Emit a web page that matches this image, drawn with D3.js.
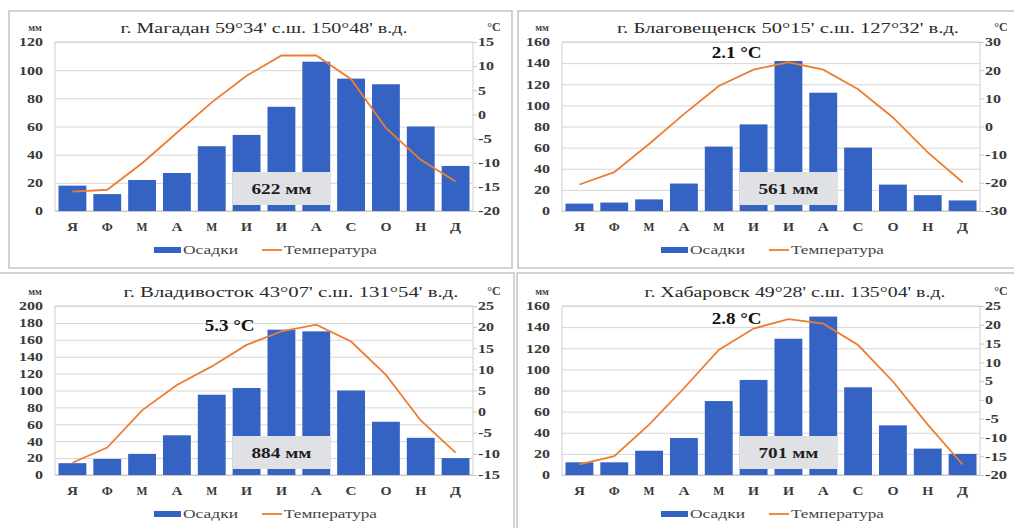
<!DOCTYPE html>
<html><head><meta charset="utf-8">
<script src="https://cdn.jsdelivr.net/npm/d3@7"></script>
<style>
html,body{margin:0;padding:0;background:#fff;}
svg{display:block;}
svg text{font-family:"Liberation Serif","Times New Roman",serif;}
</style></head>
<body><svg id="c" width="1014" height="528"></svg>
<script>
const months = ["Я","Ф","М","А","М","И","И","А","С","О","Н","Д"];

const magadanTitle = "г. Магадан 59°34' с.ш. 150°48' в.д.";
const magadanPrecip = [18,12,22,27,46,54,74,106,94,90,60,32];
const magadanTemp = [-16,-15.6,-10.1,-3.8,2.5,8,12.2,12.2,7.3,-2.8,-9.4,-13.9];
const magadanPrecipTicks = [0,20,40,60,80,100,120];
const magadanTempTicks = [-20,-15,-10,-5,0,5,10,15];
const magadanTotal = "622 мм";
const magadanMean = null;

const blagTitle = "г. Благовещенск 50°15' с.ш. 127°32' в.д.";
const blagPrecip = [7,8,11,26,61,82,142,112,60,25,15,10];
const blagTemp = [-20.6,-16.2,-6.2,4.4,14.4,20.2,22.8,20.2,13.2,3.2,-9.2,-19.8];
const blagPrecipTicks = [0,20,40,60,80,100,120,140,160];
const blagTempTicks = [-30,-20,-10,0,10,20,30];
const blagTotal = "561 мм";
const blagMean = "2.1 °C";

const vladTitle = "г. Владивосток 43°07' с.ш. 131°54' в.д.";
const vladPrecip = [14,19,25,47,95,103,172,170,100,63,44,20];
const vladTemp = [-12.1,-8.5,0.3,6.3,10.7,15.8,19,20.6,16.6,8.7,-2.1,-9.7];
const vladPrecipTicks = [0,20,40,60,80,100,120,140,160,180,200];
const vladTempTicks = [-15,-10,-5,0,5,10,15,20,25];
const vladTotal = "884 мм";
const vladMean = "5.3 °C";

const khabTitle = "г. Хабаровск 49°28' с.ш. 135°04' в.д.";
const khabPrecip = [12,12,23,35,70,90,129,150,83,47,25,20];
const khabTemp = [-17.2,-15,-6.6,3.1,13.3,19,21.5,20.3,14.6,4.9,-6.6,-17.2];
const khabPrecipTicks = [0,20,40,60,80,100,120,140,160];
const khabTempTicks = [-20,-15,-10,-5,0,5,10,15,20,25];
const khabTotal = "701 мм";
const khabMean = "2.8 °C";

const legendLabels = ["Осадки","Температура"];

// layout (not data)
const panels = [
  {title:magadanTitle, precip:magadanPrecip, temp:magadanTemp, pt:magadanPrecipTicks, tt:magadanTempTicks, total:magadanTotal, mean:magadanMean,
   ox:0, oy:0, frame:[9,11,503,257], meanY:55, tx:264, tw:287},
  {title:blagTitle, precip:blagPrecip, temp:blagTemp, pt:blagPrecipTicks, tt:blagTempTicks, total:blagTotal, mean:blagMean,
   ox:507, oy:0, frame:[11,11,510,257], meanY:53, tx:281, tw:342},
  {title:vladTitle, precip:vladPrecip, temp:vladTemp, pt:vladPrecipTicks, tt:vladTempTicks, total:vladTotal, mean:vladMean,
   ox:0, oy:264, frame:[-3,9,517,270], meanY:62, tx:291, tw:335},
  {title:khabTitle, precip:khabPrecip, temp:khabTemp, pt:khabPrecipTicks, tt:khabTempTicks, total:khabTotal, mean:khabMean,
   ox:507, oy:264, frame:[10,9,510,270], meanY:55, tx:288, tw:301}
];

const svg = d3.select("#c");
const L = 55, R = 473, T = 42, B = 211;
const blue = "#3563c4", orange = "#ed7d31";
const FF = "'Liberation Serif', serif";
const fmt = d => String(d);
const styleTick = sel => sel.style("font-family", FF).attr("font-size", 12).attr("font-weight", "bold")
  .attr("fill", "#3a3a3a")
  .attr("textLength", function () { const t = this.textContent; return t.length * 8 - (t.startsWith("-") ? 2 : 0); })
  .attr("lengthAdjust", "spacingAndGlyphs");

panels.forEach(p => {
  const g = svg.append("g").attr("transform", `translate(${p.ox},${p.oy})`);
  g.append("rect").attr("x", p.frame[0]).attr("y", p.frame[1]).attr("width", p.frame[2]).attr("height", p.frame[3])
    .attr("fill", "#fff").attr("stroke", "#c4c4c4").attr("stroke-width", 1.5);

  const x = d3.scaleBand().domain(d3.range(12)).range([L, R]).paddingInner(0.2).paddingOuter(0.1);
  const yl = d3.scaleLinear().domain([0, d3.max(p.pt)]).range([B, T]);
  const yr = d3.scaleLinear().domain([d3.min(p.tt), d3.max(p.tt)]).range([B, T]);

  // gridlines
  const gl = d3.axisLeft(yl).tickValues(p.pt).tickSize(-(R - L)).tickFormat("");
  const grid = g.append("g").attr("transform", `translate(${L},0)`).call(gl);
  grid.select(".domain").remove();
  grid.selectAll(".tick line").attr("stroke", "#d6d6d6").attr("stroke-width", 1);
  g.append("rect").attr("x", L).attr("y", T).attr("width", R - L).attr("height", B - T)
    .attr("fill", "none").attr("stroke", "#d0d0d0");

  // left axis
  const ax = g.append("g").attr("transform", `translate(${L},0)`)
    .call(d3.axisLeft(yl).tickValues(p.pt).tickSize(0).tickPadding(12).tickFormat(fmt));
  ax.select(".domain").remove();
  styleTick(ax.selectAll("text"));

  const ar = g.append("g").attr("transform", `translate(${R},0)`)
    .call(d3.axisRight(yr).tickValues(p.tt).tickSize(4).tickPadding(1).tickFormat(fmt));
  ar.select(".domain").remove();
  ar.selectAll("line").attr("stroke", "#c8c8c8");
  styleTick(ar.selectAll("text"));

  // bars
  g.selectAll("rect.bar").data(p.precip).join("rect").attr("class", "bar")
    .attr("x", (d, i) => x(i)).attr("width", x.bandwidth())
    .attr("y", d => yl(d)).attr("height", d => yl(0) - yl(d)).attr("fill", blue);

  // month axis
  const mx = g.append("g").attr("transform", `translate(0,${B})`)
    .call(d3.axisBottom(x).tickSize(0).tickPadding(11).tickFormat(i => months[i]));
  mx.select(".domain").attr("stroke", "#c8c8c8");
  mx.selectAll("text").style("font-family", FF).attr("font-size", 12).attr("font-weight", "bold").attr("fill", "#3a3a3a")
    .attr("textLength", 11).attr("lengthAdjust", "spacingAndGlyphs");

  // total box
  const cx = x(6) + x.bandwidth() / 2;
  g.append("rect").attr("x", cx - 49).attr("y", B - 39).attr("width", 98).attr("height", 33)
    .attr("fill", "#dfe1e5");
  g.append("text").attr("x", cx).attr("y", B - 17).attr("text-anchor", "middle")
    .attr("font-size", 15).attr("font-weight", "bold").attr("fill", "#1e1e1e")
    .attr("textLength", 60).attr("lengthAdjust", "spacingAndGlyphs").text(p.total);

  // temperature line
  const line = d3.line().x((d, i) => x(i) + x.bandwidth() / 2).y(d => yr(d));
  g.append("path").datum(p.temp).attr("d", line).attr("fill", "none").attr("stroke", orange).attr("stroke-width", 1.8);

  // mean
  if (p.mean) {
    g.append("text").attr("x", x(5) - 3).attr("y", p.meanY + 5).attr("text-anchor", "middle")
      .attr("font-size", 16).attr("font-weight", "bold").attr("fill", "#111")
      .attr("textLength", 50).attr("lengthAdjust", "spacingAndGlyphs").text(p.mean);
  }

  // title and units
  g.append("text").attr("x", p.tx).attr("y", 33).attr("text-anchor", "middle")
    .attr("font-size", 15).attr("fill", "#2a2a2a")
    .attr("textLength", p.tw).attr("lengthAdjust", "spacingAndGlyphs").text(p.title);
  g.append("text").attr("x", 35).attr("y", 31).attr("text-anchor", "middle")
    .attr("font-size", 10).attr("font-weight", "bold").attr("fill", "#444").text("мм");
  g.append("text").attr("x", 494).attr("y", 31).attr("text-anchor", "middle")
    .attr("font-size", 12).attr("font-weight", "bold").attr("fill", "#444").text("°C");

  // legend
  const lg = g.append("g").attr("transform", "translate(0,250)");
  lg.append("rect").attr("x", 154).attr("y", -3).attr("width", 27).attr("height", 6).attr("fill", blue);
  lg.append("text").attr("x", 183).attr("y", 4).attr("font-size", 13).attr("fill", "#444")
    .attr("textLength", 55).attr("lengthAdjust", "spacingAndGlyphs").text(legendLabels[0]);
  lg.append("line").attr("x1", 262).attr("x2", 282).attr("y1", 0).attr("y2", 0).attr("stroke", orange).attr("stroke-width", 1.8);
  lg.append("text").attr("x", 284).attr("y", 4).attr("font-size", 13).attr("fill", "#444")
    .attr("textLength", 93).attr("lengthAdjust", "spacingAndGlyphs").text(legendLabels[1]);
});
</script></body></html>
